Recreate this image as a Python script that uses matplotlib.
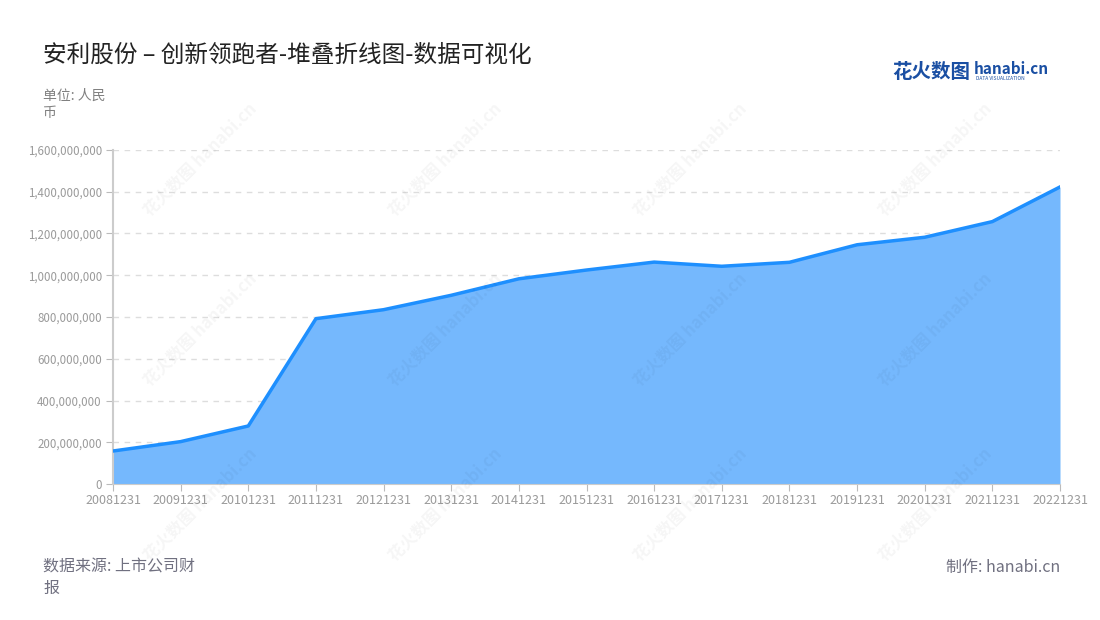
import matplotlib
matplotlib.use("Agg")
import matplotlib.pyplot as plt
from matplotlib.ticker import FuncFormatter

plt.rcParams['font.family'] = ['Noto Sans CJK SC', 'DejaVu Sans']

# data (unit: RMB)
dates = ['20081231', '20091231', '20101231', '20111231', '20121231', '20131231',
         '20141231', '20151231', '20161231', '20171231', '20181231', '20191231',
         '20201231', '20211231', '20221231']
values = [158e6, 203e6, 278e6, 792e6, 835e6, 904e6, 983e6, 1025e6, 1063e6,
          1043e6, 1062e6, 1146e6, 1182e6, 1257e6, 1423e6]
y_ticks = [0, 200e6, 400e6, 600e6, 800e6, 1000e6, 1200e6, 1400e6, 1600e6]

fig = plt.figure(figsize=(11, 6.2), dpi=100)
ax = fig.add_axes([113 / 1100, 1 - 484 / 620, (1060 - 113) / 1100, (484 - 150) / 620])

x = list(range(len(dates)))
ax.fill_between(x, values, 0, color='#75b8fd', zorder=2, linewidth=0)
ax.plot(x, values, color='#1e8ffe', linewidth=2.5, zorder=3, solid_joinstyle='round')

ax.set_xlim(0, len(dates) - 1)
ax.set_ylim(0, 1.6e9)
ax.set_xticks(x)
ax.set_xticklabels(dates)
ax.set_yticks(y_ticks)
ax.yaxis.set_major_formatter(FuncFormatter(lambda v, p: f'{int(v):,}'))
ax.tick_params(axis='both', colors='#bbbbbb', labelcolor='#9a9a9a', labelsize=9, length=5)
ax.tick_params(axis='y', labelsize=8.3, pad=3)
ax.tick_params(axis='x', pad=2)
ax.grid(axis='y', linestyle=(0, (4, 4)), color='#dddddd', linewidth=1, zorder=1)
for s in ['top', 'right']:
    ax.spines[s].set_visible(False)
ax.spines['left'].set_color('#cccccc')
ax.spines['left'].set_linewidth(1.5)
ax.spines['bottom'].set_color('#cccccc')
ax.spines['bottom'].set_zorder(4)

# watermarks
for wx in [200, 445, 690, 935]:
    for wy in [160, 330, 505]:
        fig.text(wx / 1100, 1 - wy / 620, '花火数图 hanabi.cn', rotation=45, fontsize=12,
                 color='#000000', alpha=0.04, ha='center', va='center', fontweight='bold')

# titles and notes
fig.text(43 / 1100, 1 - 55 / 620, '安利股份 – 创新领跑者-堆叠折线图-数据可视化',
         fontsize=17, color='#222222', va='center')
fig.text(43 / 1100, 1 - 104 / 620, '单位: 人民\n币', fontsize=10, color='#808080',
         va='center', linespacing=1.3)
fig.text(43 / 1100, 1 - 578 / 620, '数据来源: 上市公司财\n报', fontsize=11.5, color='#707080',
         va='center', linespacing=1.35)
fig.text(1060 / 1100, 1 - 567 / 620, '制作: hanabi.cn', fontsize=11.5, color='#707080',
         va='center', ha='right')

# logo
fig.text(892 / 1100, 1 - 72 / 620, '花火数图', fontsize=14, color='#1a4fa3',
         fontweight='bold', va='center')
fig.text(974 / 1100, 1 - 69 / 620, 'hanabi.cn', fontsize=11, color='#1a4fa3',
         fontweight='bold', va='center')
fig.text(976 / 1100, 1 - 79 / 620, 'DATA VISUALIZATION', fontsize=3.5, color='#1a4fa3',
         va='center')

fig.savefig('out.png', dpi=100, facecolor='white')
